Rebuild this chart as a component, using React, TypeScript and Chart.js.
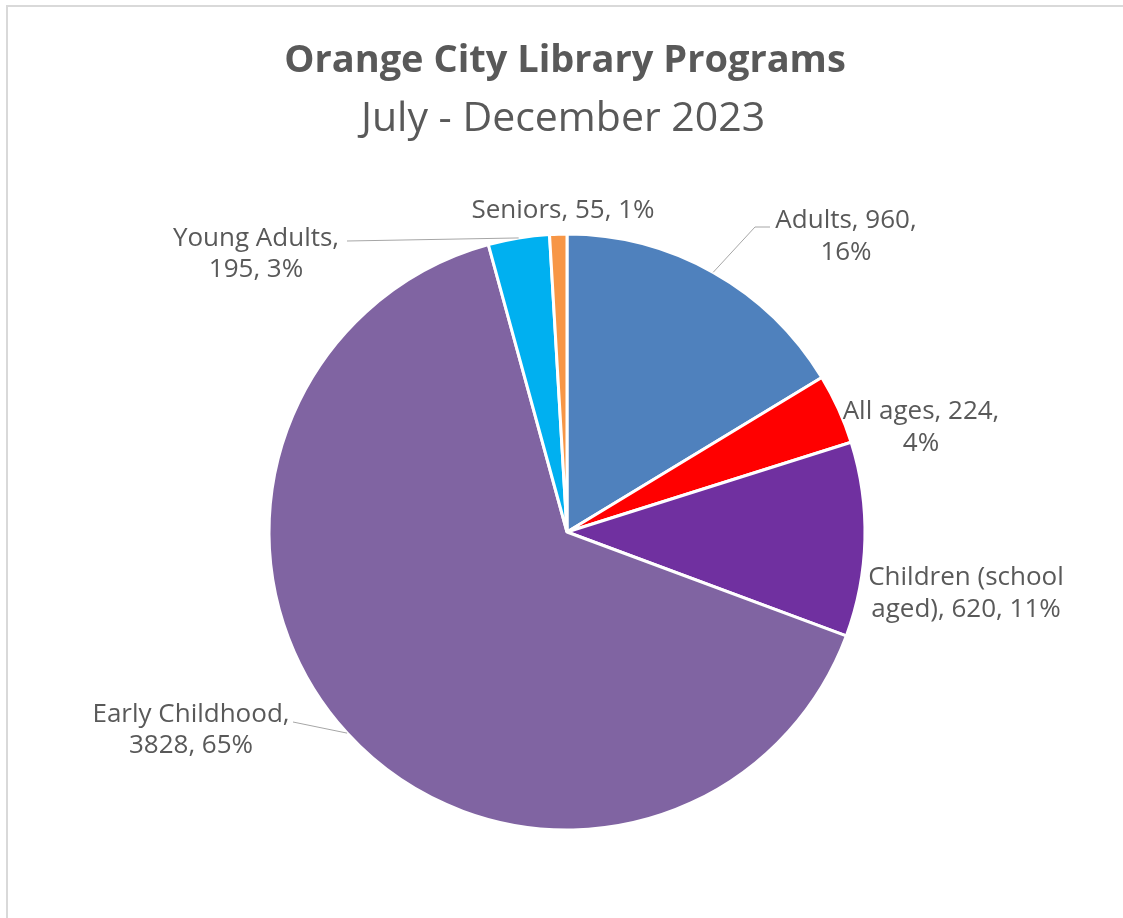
import React, { useEffect, useRef } from "react";
import { Chart, registerables } from "chart.js";

Chart.register(...registerables);

const titleText = "Orange City Library Programs";
const subtitleText = "July - December 2023";
const categories = ["Adults", "All ages", "Children (school aged)", "Early Childhood", "Young Adults", "Seniors"];
const values = [960, 224, 620, 3828, 195, 55];
const colors = ["#4F81BD", "#FF0000", "#7030A0", "#8064A2", "#00B0F0", "#F79646"];

// label layout (pixel offsets from pie centre), words on first line, leader type
const labelLayout = [
  { dx: 279, dy: -295.5, firstLineWords: 2, leader: [[188, -305], [203, -305]] },
  { dx: 354, dy: -104.5, firstLineWords: 3, leader: null },
  { dx: 399, dy: 61.5, firstLineWords: 2, leader: null },
  { dx: -376, dy: 198, firstLineWords: 2, leader: [[-274, 190]] },
  { dx: -311, dy: -278, firstLineWords: 2, leader: [[-220, -291]] },
  { dx: -4, dy: -321, firstLineWords: 0, leader: null },
];

const FONT = "'Open Sans', Lato, sans-serif";
const TEXT_COLOR = "#595959";

const labelPlugin = {
  id: "customLabels",
  afterDraw(chart: any) {
    const ctx = chart.ctx as CanvasRenderingContext2D;
    const meta = chart.getDatasetMeta(0);
    const data = chart.data.datasets[0].data as number[];
    const total = data.reduce((a, b) => a + b, 0);
    ctx.save();
    // titles
    ctx.fillStyle = TEXT_COLOR;
    ctx.textAlign = "center";
    ctx.textBaseline = "middle";
    ctx.font = `bold 38px ${FONT}`;
    ctx.fillText(titleText, 565, 61);
    ctx.font = `41px ${FONT}`;
    ctx.fillText(subtitleText, 563, 119);

    ctx.font = `26px ${FONT}`;
    meta.data.forEach((arc: any, i: number) => {
      const p = arc.getProps(["x", "y", "startAngle", "endAngle", "outerRadius"], true);
      const mid = (p.startAngle + p.endAngle) / 2;
      const ex = p.x + p.outerRadius * Math.cos(mid);
      const ey = p.y + p.outerRadius * Math.sin(mid);
      const lay = labelLayout[i];
      const pct = Math.round((data[i] / total) * 100);
      const full = `${chart.data.labels[i]}, ${data[i]}, ${pct}%`;
      const words = full.split(" ");
      const lines = lay.firstLineWords > 0
        ? [words.slice(0, lay.firstLineWords).join(" "), words.slice(lay.firstLineWords).join(" ")]
        : [full];
      if (lay.leader) {
        ctx.strokeStyle = "#A6A6A6";
        ctx.lineWidth = 1;
        ctx.beginPath();
        ctx.moveTo(ex, ey);
        lay.leader.forEach(([lx, ly]) => ctx.lineTo(p.x + lx, p.y + ly));
        ctx.stroke();
      }
      const lh = 31.5;
      const cx = p.x + lay.dx;
      const cy = p.y + lay.dy;
      ctx.fillStyle = TEXT_COLOR;
      lines.forEach((ln, k) => {
        ctx.fillText(ln, cx, cy + (k - (lines.length - 1) / 2) * lh);
      });
    });
    ctx.restore();
  },
};

export default function App() {
  const ref = useRef<HTMLCanvasElement>(null);
  useEffect(() => {
    if (!ref.current) return;
    const chart = new Chart(ref.current, {
      type: "pie",
      data: {
        labels: categories,
        datasets: [
          {
            data: values,
            backgroundColor: colors,
            borderColor: "#FFFFFF",
            borderWidth: 3,
            hoverOffset: 0,
            radius: 298,
          } as any,
        ],
      },
      options: {
        animation: false,
        responsive: true,
        maintainAspectRatio: false,
        layout: { padding: { top: 200, bottom: 54, left: 100, right: 89 } },
        plugins: {
          legend: { display: false },
          title: { display: false },
          tooltip: { enabled: false },
        },
      },
      plugins: [labelPlugin],
    });
    return () => chart.destroy();
  }, []);
  return (
    <div style={{ position: "absolute", left: 0, top: 0, width: 1123, height: 918, overflow: "hidden", background: "#fff" }}>
      <div style={{ position: "absolute", left: 6, top: 5, width: 1300, height: 1100, border: "2px solid #D9D9D9" }} />
      <div style={{ position: "absolute", left: 0, top: 0, width: 1123, height: 918 }}>
        <canvas ref={ref} />
      </div>
    </div>
  );
}
